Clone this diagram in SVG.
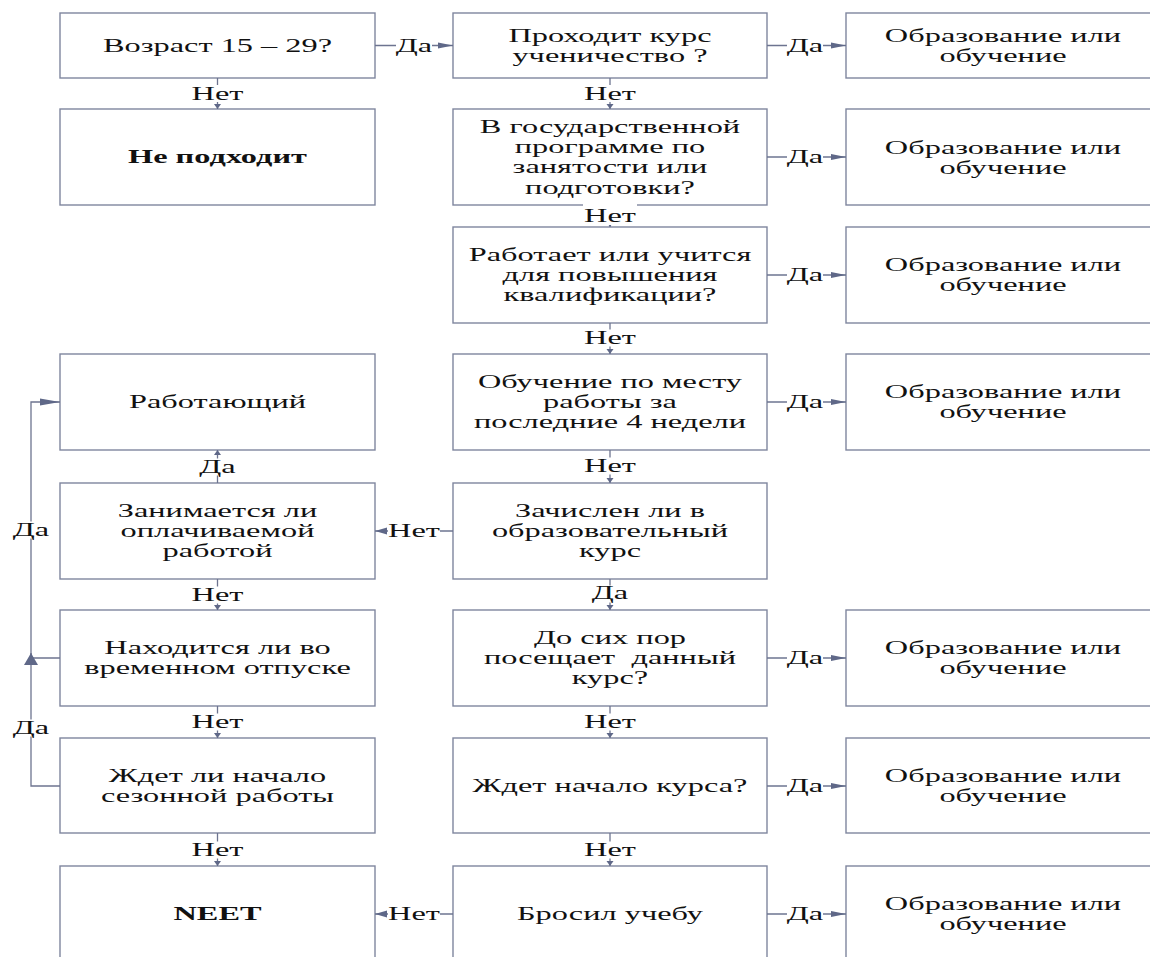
<svg xmlns="http://www.w3.org/2000/svg" width="1150" height="957" viewBox="0 0 1150 957">
<style>
.box{fill:#fff;stroke:#7f869e;stroke-width:1.4}
.t{font-family:"Liberation Serif","Times New Roman",serif;font-size:18.5px;fill:#111;text-anchor:middle}
.b{font-weight:bold}
.ln{fill:none;stroke:#6d7490;stroke-width:1.3}
.lb{fill:#fff;stroke:none}
.pre{white-space:pre}
</style>
<defs>
<marker id="ah" markerUnits="userSpaceOnUse" markerWidth="16" markerHeight="8" refX="15" refY="4" orient="auto"><path d="M0,1 L15,4 L0,7 z" fill="#5f6888"/></marker>
<marker id="av" markerUnits="userSpaceOnUse" markerWidth="6" markerHeight="8" refX="5" refY="4" orient="auto"><path d="M0,0.5 L5,4 L0,7.5 z" fill="#5f6888"/></marker>
<marker id="al" markerUnits="userSpaceOnUse" markerWidth="13" markerHeight="8" refX="12" refY="4" orient="auto"><path d="M0,0.5 L12,4 L0,7.5 z" fill="#5f6888"/></marker>
<marker id="ab" markerUnits="userSpaceOnUse" markerWidth="21" markerHeight="8" refX="20" refY="4" orient="auto"><path d="M0,0.5 L20,4 L0,7.5 z" fill="#5f6888"/></marker>
<marker id="au" markerUnits="userSpaceOnUse" markerWidth="13" markerHeight="14" refX="12" refY="7" orient="auto"><path d="M0,0 L12,7 L0,14 z" fill="#5f6888"/></marker>
</defs>
<rect width="1150" height="957" fill="#fff"/>

<!-- Left column -->
<g id="n-age"><rect class="box" x="60" y="13" width="315" height="65"/><text class="t" transform="translate(217.5,51.5) scale(1.75,1)">Возраст 15 – 29?</text></g>
<g id="n-notfit"><rect class="box" x="60" y="109" width="315" height="96"/><text class="t b" transform="translate(217.5,163) scale(1.75,1)">Не подходит</text></g>
<g id="n-working"><rect class="box" x="60" y="354" width="315" height="96"/><text class="t" transform="translate(217.5,408) scale(1.75,1)">Работающий</text></g>
<g id="n-paid"><rect class="box" x="60" y="483" width="315" height="96"/><text class="t" transform="translate(217.5,516.5) scale(1.75,1)"><tspan x="0">Занимается ли</tspan><tspan x="0" dy="20.5">оплачиваемой</tspan><tspan x="0" dy="20.5">работой</tspan></text></g>
<g id="n-leave"><rect class="box" x="60" y="610" width="315" height="96"/><text class="t" transform="translate(217.5,653.75) scale(1.75,1)"><tspan x="0">Находится ли во</tspan><tspan x="0" dy="20.5">временном отпуске</tspan></text></g>
<g id="n-seasonal"><rect class="box" x="60" y="738" width="315" height="95"/><text class="t" transform="translate(217.5,781.75) scale(1.75,1)"><tspan x="0">Ждет ли начало</tspan><tspan x="0" dy="20.5">сезонной работы</tspan></text></g>
<g id="n-neet"><rect class="box" x="60" y="866" width="315" height="100"/><text class="t b" transform="translate(217.5,920) scale(1.75,1)">NEET</text></g>

<!-- Middle column -->
<g id="n-apprentice"><rect class="box" x="453" y="13" width="314" height="65"/><text class="t" transform="translate(610,42) scale(1.75,1)"><tspan x="0">Проходит курс</tspan><tspan x="0" dy="20.5">ученичество ?</tspan></text></g>
<g id="n-stateprog"><rect class="box" x="453" y="109" width="314" height="96"/><text class="t" transform="translate(610,132.5) scale(1.75,1)"><tspan x="0">В государственной</tspan><tspan x="0" dy="20.5">программе по</tspan><tspan x="0" dy="20.5">занятости или</tspan><tspan x="0" dy="20.5">подготовки?</tspan></text></g>
<g id="n-qualif"><rect class="box" x="453" y="227" width="314" height="96"/><text class="t" transform="translate(610,260.5) scale(1.75,1)"><tspan x="0">Работает или учится</tspan><tspan x="0" dy="20.5">для повышения</tspan><tspan x="0" dy="20.5">квалификации?</tspan></text></g>
<g id="n-jobtrain"><rect class="box" x="453" y="354" width="314" height="96"/><text class="t" transform="translate(610,387.5) scale(1.75,1)"><tspan x="0">Обучение по месту</tspan><tspan x="0" dy="20.5">работы за</tspan><tspan x="0" dy="20.5">последние 4 недели</tspan></text></g>
<g id="n-enrolled"><rect class="box" x="453" y="483" width="314" height="96"/><text class="t" transform="translate(610,516.5) scale(1.75,1)"><tspan x="0">Зачислен ли в</tspan><tspan x="0" dy="20.5">образовательный</tspan><tspan x="0" dy="20.5">курс</tspan></text></g>
<g id="n-attends"><rect class="box" x="453" y="610" width="314" height="96"/><text class="t pre" transform="translate(610,643.5) scale(1.75,1)"><tspan x="0">До сих пор</tspan><tspan x="0" dy="20.5">посещает  данный</tspan><tspan x="0" dy="20.5">курс?</tspan></text></g>
<g id="n-waitcourse"><rect class="box" x="453" y="738" width="314" height="95"/><text class="t" transform="translate(610,792) scale(1.75,1)">Ждет начало курса?</text></g>
<g id="n-dropped"><rect class="box" x="453" y="866" width="314" height="100"/><text class="t" transform="translate(610,920) scale(1.75,1)">Бросил учебу</text></g>

<!-- Right column -->
<g id="n-edu1"><rect class="box" x="846" y="13" width="320" height="65"/><text class="t" transform="translate(1003,42) scale(1.75,1)"><tspan x="0">Образование или</tspan><tspan x="0" dy="20.5">обучение</tspan></text></g>
<g id="n-edu2"><rect class="box" x="846" y="109" width="320" height="96"/><text class="t" transform="translate(1003,154) scale(1.75,1)"><tspan x="0">Образование или</tspan><tspan x="0" dy="20.5">обучение</tspan></text></g>
<g id="n-edu3"><rect class="box" x="846" y="227" width="320" height="96"/><text class="t" transform="translate(1003,270.75) scale(1.75,1)"><tspan x="0">Образование или</tspan><tspan x="0" dy="20.5">обучение</tspan></text></g>
<g id="n-edu4"><rect class="box" x="846" y="354" width="320" height="96"/><text class="t" transform="translate(1003,397.75) scale(1.75,1)"><tspan x="0">Образование или</tspan><tspan x="0" dy="20.5">обучение</tspan></text></g>
<g id="n-edu5"><rect class="box" x="846" y="610" width="320" height="96"/><text class="t" transform="translate(1003,653.75) scale(1.75,1)"><tspan x="0">Образование или</tspan><tspan x="0" dy="20.5">обучение</tspan></text></g>
<g id="n-edu6"><rect class="box" x="846" y="738" width="320" height="95"/><text class="t" transform="translate(1003,781.75) scale(1.75,1)"><tspan x="0">Образование или</tspan><tspan x="0" dy="20.5">обучение</tspan></text></g>
<g id="n-edu7"><rect class="box" x="846" y="866" width="320" height="100"/><text class="t" transform="translate(1003,909.75) scale(1.75,1)"><tspan x="0">Образование или</tspan><tspan x="0" dy="20.5">обучение</tspan></text></g>

<!-- Connectors -->
<g id="connectors">
  <line class="ln" x1="375" y1="45.5" x2="453" y2="45.5" marker-end="url(#ah)"/>
  <rect class="lb" x="396" y="37" width="36" height="17"/><text class="t" transform="translate(414,51.5) scale(1.75,1)">Да</text>

  <line class="ln" x1="767" y1="45.5" x2="846" y2="45.5" marker-end="url(#ah)"/>
  <rect class="lb" x="787" y="37" width="36" height="17"/><text class="t" transform="translate(805,51.5) scale(1.75,1)">Да</text>
  <line class="ln" x1="767" y1="157" x2="846" y2="157" marker-end="url(#ah)"/>
  <rect class="lb" x="787" y="148.5" width="36" height="17"/><text class="t" transform="translate(805,163) scale(1.75,1)">Да</text>
  <line class="ln" x1="767" y1="275" x2="846" y2="275" marker-end="url(#ah)"/>
  <rect class="lb" x="787" y="266.5" width="36" height="17"/><text class="t" transform="translate(805,281) scale(1.75,1)">Да</text>
  <line class="ln" x1="767" y1="402" x2="846" y2="402" marker-end="url(#ah)"/>
  <rect class="lb" x="787" y="393.5" width="36" height="17"/><text class="t" transform="translate(805,408) scale(1.75,1)">Да</text>
  <line class="ln" x1="767" y1="658" x2="846" y2="658" marker-end="url(#ah)"/>
  <rect class="lb" x="787" y="649.5" width="36" height="17"/><text class="t" transform="translate(805,664) scale(1.75,1)">Да</text>
  <line class="ln" x1="767" y1="786" x2="846" y2="786" marker-end="url(#ah)"/>
  <rect class="lb" x="787" y="777.5" width="36" height="17"/><text class="t" transform="translate(805,792) scale(1.75,1)">Да</text>
  <line class="ln" x1="767" y1="914" x2="846" y2="914" marker-end="url(#ah)"/>
  <rect class="lb" x="787" y="905.5" width="36" height="17"/><text class="t" transform="translate(805,920) scale(1.75,1)">Да</text>

  <line class="ln" x1="453" y1="531" x2="375" y2="531" marker-end="url(#al)"/>
  <rect class="lb" x="388" y="522.5" width="52" height="17"/><text class="t" transform="translate(414,537) scale(1.75,1)">Нет</text>
  <line class="ln" x1="453" y1="914" x2="375" y2="914" marker-end="url(#al)"/>
  <rect class="lb" x="388" y="905.5" width="52" height="17"/><text class="t" transform="translate(414,920) scale(1.75,1)">Нет</text>

  <line class="ln" x1="610" y1="78" x2="610" y2="109" marker-end="url(#av)"/>
  <rect class="lb" x="584" y="85" width="52" height="17"/><text class="t" transform="translate(610,99.5) scale(1.75,1)">Нет</text>
  <line class="ln" x1="610" y1="205" x2="610" y2="227" marker-end="url(#av)"/>
  <rect class="lb" x="583" y="204" width="54" height="21"/><text class="t" transform="translate(610,222) scale(1.75,1)">Нет</text>
  <line class="ln" x1="610" y1="323" x2="610" y2="354" marker-end="url(#av)"/>
  <rect class="lb" x="584" y="329.5" width="52" height="17"/><text class="t" transform="translate(610,344) scale(1.75,1)">Нет</text>
  <line class="ln" x1="610" y1="450" x2="610" y2="483" marker-end="url(#av)"/>
  <rect class="lb" x="584" y="457.5" width="52" height="17"/><text class="t" transform="translate(610,472) scale(1.75,1)">Нет</text>
  <line class="ln" x1="610" y1="579" x2="610" y2="610" marker-end="url(#av)"/>
  <rect class="lb" x="592" y="585.5" width="36" height="17"/><text class="t" transform="translate(610,599) scale(1.75,1)">Да</text>
  <line class="ln" x1="610" y1="706" x2="610" y2="738" marker-end="url(#av)"/>
  <rect class="lb" x="584" y="713.5" width="52" height="17"/><text class="t" transform="translate(610,728) scale(1.75,1)">Нет</text>
  <line class="ln" x1="610" y1="833" x2="610" y2="866" marker-end="url(#av)"/>
  <rect class="lb" x="584" y="841.5" width="52" height="17"/><text class="t" transform="translate(610,856) scale(1.75,1)">Нет</text>

  <line class="ln" x1="217.5" y1="78" x2="217.5" y2="109" marker-end="url(#av)"/>
  <rect class="lb" x="191.5" y="85" width="52" height="17"/><text class="t" transform="translate(217.5,99.5) scale(1.75,1)">Нет</text>
  <line class="ln" x1="217.5" y1="483" x2="217.5" y2="450" marker-end="url(#av)"/>
  <rect class="lb" x="199.5" y="458.5" width="36" height="17"/><text class="t" transform="translate(217.5,472.5) scale(1.75,1)">Да</text>
  <line class="ln" x1="217.5" y1="579" x2="217.5" y2="610" marker-end="url(#av)"/>
  <rect class="lb" x="191.5" y="586.5" width="52" height="17"/><text class="t" transform="translate(217.5,600.5) scale(1.75,1)">Нет</text>
  <line class="ln" x1="217.5" y1="706" x2="217.5" y2="738" marker-end="url(#av)"/>
  <rect class="lb" x="191.5" y="713.5" width="52" height="17"/><text class="t" transform="translate(217.5,728) scale(1.75,1)">Нет</text>
  <line class="ln" x1="217.5" y1="833" x2="217.5" y2="866" marker-end="url(#av)"/>
  <rect class="lb" x="191.5" y="841.5" width="52" height="17"/><text class="t" transform="translate(217.5,856) scale(1.75,1)">Нет</text>

  <path class="ln" d="M60,658 H31 V402 H60" marker-end="url(#ab)"/>
  <rect class="lb" x="13" y="521.5" width="36" height="17"/><text class="t" transform="translate(31,536) scale(1.75,1)">Да</text>
  <path class="ln" d="M60,786 H31 V653" marker-end="url(#au)"/>
  <rect class="lb" x="13" y="719.5" width="36" height="17"/><text class="t" transform="translate(31,734) scale(1.75,1)">Да</text>
</g>
</svg>
